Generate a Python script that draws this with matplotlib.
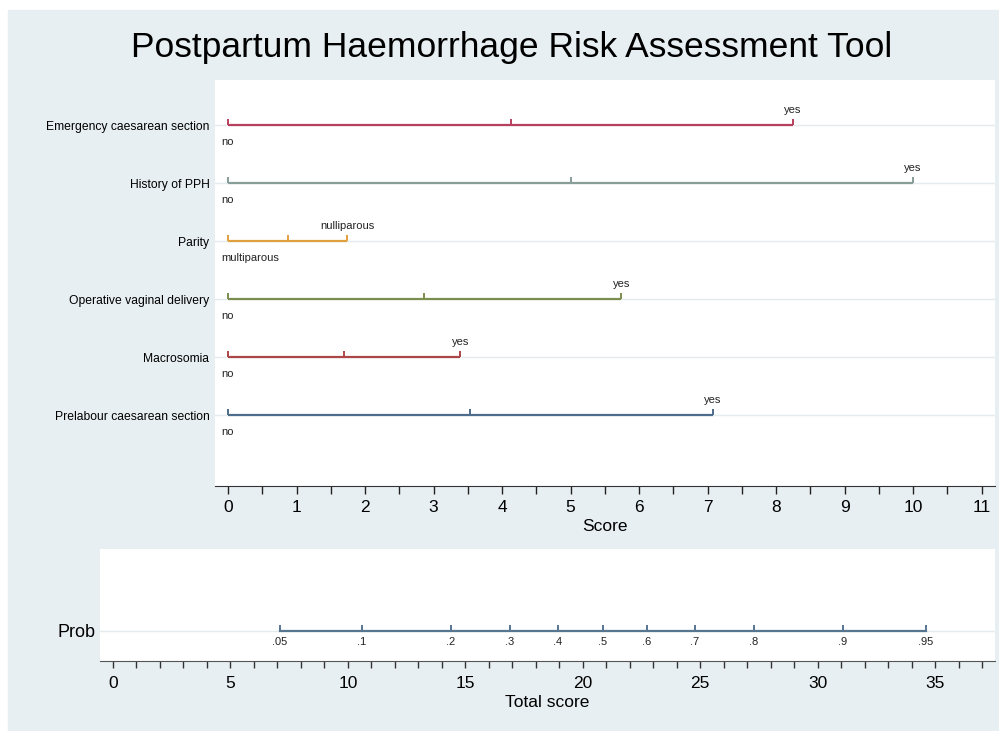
import matplotlib
matplotlib.use('Agg')
import matplotlib.pyplot as plt
from matplotlib.patches import Rectangle
from matplotlib.ticker import MultipleLocator

plt.rcParams['font.family'] = ['Liberation Sans', 'DejaVu Sans']

# nomogram rows, top to bottom
rows = ["Emergency caesarean section", "History of PPH", "Parity",
        "Operative vaginal delivery", "Macrosomia", "Prelabour caesarean section"]
row_ticks = [[0, 4.13, 8.25],
             [0, 5.0, 10.0],
             [0, 0.87, 1.74],
             [0, 2.86, 5.74],
             [0, 1.69, 3.39],
             [0, 3.53, 7.08]]
low_labels = ["no", "no", "multiparous", "no", "no", "no"]
high_labels = ["yes", "yes", "nulliparous", "yes", "yes", "yes"]
row_colors = ['#b8405e', '#879d97', '#e0a03e', '#7b8e4f', '#ad4646', '#4c6d8b']

# probability scale against total score
prob_labels = [".05", ".1", ".2", ".3", ".4", ".5", ".6", ".7", ".8", ".9", ".95"]
prob_pos = [7.11, 10.6, 14.39, 16.9, 18.94, 20.86, 22.73, 24.77, 27.29, 31.08, 34.6]

W, H = 999, 731
bg = '#e8eff2'
fig = plt.figure(figsize=(W / 100, H / 100), dpi=100)
fig.patches.append(Rectangle((8 / W, 0), 1 - 8 / W, 1 - 10 / H,
                             transform=fig.transFigure, color=bg, zorder=-10))

def px_axes(l, t, r, b):
    return fig.add_axes([l / W, 1 - b / H, (r - l) / W, (b - t) / H])

fig.text(512 / W, 1 - 47 / H, "Postpartum Haemorrhage Risk Assessment Tool",
         ha='center', va='center', fontsize=25.5)

# ---- top panel
ax = px_axes(215, 80, 995, 486)
ax.set_xlim(-0.19, 11.197)
ax.set_ylim(-0.224, 6.776)
ypos = list(range(len(rows), 0, -1))
for i in range(len(rows)):
    y = ypos[i]
    ax.axhline(y, color='#e4ebee', lw=1, zorder=1)
    t = row_ticks[i]
    ax.plot([t[0], t[-1]], [y, y], color=row_colors[i], lw=1.6, zorder=3,
            solid_capstyle='butt')
    ax.vlines(t, y, y + 0.1, color=row_colors[i], lw=1.4, zorder=3)
    ax.annotate(low_labels[i], (t[0], y), xytext=(-4.5, -12.5), textcoords='offset points',
                ha='left', va='center', fontsize=8, color='#222222')
    ax.annotate(high_labels[i], (t[-1], y), xytext=(0, 11), textcoords='offset points',
                ha='center', va='center', fontsize=8, color='#222222')
ax.set_yticks(ypos)
ax.set_yticklabels(rows, fontsize=8.7)
ax.tick_params(axis='y', length=0, pad=4)
ax.xaxis.set_major_locator(MultipleLocator(1))
ax.xaxis.set_minor_locator(MultipleLocator(0.5))
ax.tick_params(axis='x', which='both', direction='out', length=6, width=1,
               color='#222222', labelsize=12.5, pad=4)
for s in ['top', 'left', 'right']:
    ax.spines[s].set_visible(False)
ax.spines['bottom'].set_color('#333333')
ax.set_xlabel("Score", fontsize=12.5, labelpad=3)

# ---- bottom panel
bx = px_axes(100, 549, 995, 661)
bx.set_xlim(-0.553, 37.55)
bx.set_ylim(0, 1)
py = 0.27
bx.axhline(py, color='#e4ebee', lw=1, zorder=1)
bx.plot([prob_pos[0], prob_pos[-1]], [py, py], color='#567590', lw=1.6, zorder=3)
bx.vlines(prob_pos, py, py + 0.055, color='#567590', lw=1.4, zorder=3)
for lab, x in zip(prob_labels, prob_pos):
    bx.annotate(lab, (x, py), xytext=(0, -8), textcoords='offset points',
                ha='center', va='center', fontsize=8, color='#222222')
bx.set_yticks([py])
bx.set_yticklabels(["Prob"], fontsize=13)
bx.tick_params(axis='y', length=0, pad=3)
bx.xaxis.set_major_locator(MultipleLocator(5))
bx.xaxis.set_minor_locator(MultipleLocator(1))
bx.tick_params(axis='x', which='both', direction='out', length=5, width=1,
               color='#333333', labelsize=12.5, pad=6)
for s in ['top', 'left', 'right']:
    bx.spines[s].set_visible(False)
bx.spines['bottom'].set_color('#555555')
bx.set_xlabel("Total score", fontsize=12.5, labelpad=2.5)

fig.savefig('out.png', dpi=100, facecolor='white')
